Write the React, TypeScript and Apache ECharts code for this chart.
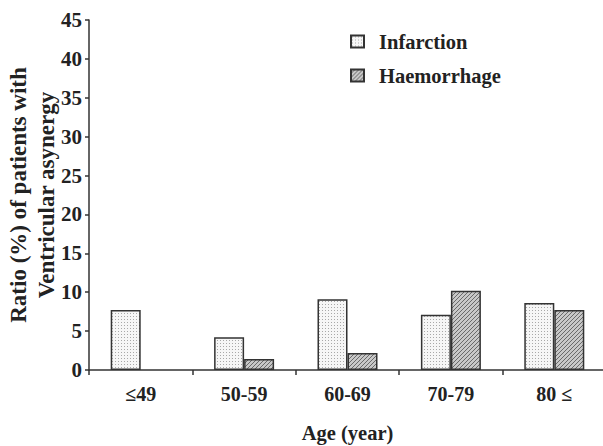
import React, { useEffect, useRef } from "react";
import * as echarts from "echarts";

const categories = ["≤49", "50-59", "60-69", "70-79", "80 ≤"];
const infarction = [7.7, 4.2, 9.1, 7.1, 8.6];
const haemorrhage = [null, 1.4, 2.2, 10.2, 7.7];
const seriesNames = ["Infarction", "Haemorrhage"];
const yTicks = { min: 0, max: 45, interval: 5 };

const FONT = "'Liberation Serif', 'Times New Roman', serif";

function dotPattern(): HTMLCanvasElement {
  const c = document.createElement("canvas");
  c.width = 3;
  c.height = 3;
  const ctx = c.getContext("2d")!;
  ctx.fillStyle = "#f6f6f6";
  ctx.fillRect(0, 0, 3, 3);
  ctx.fillStyle = "#a8a8a8";
  ctx.fillRect(1, 1, 1, 1);
  return c;
}

function hatchPattern(): HTMLCanvasElement {
  const c = document.createElement("canvas");
  c.width = 4;
  c.height = 4;
  const ctx = c.getContext("2d")!;
  ctx.fillStyle = "#c8c8c8";
  ctx.fillRect(0, 0, 4, 4);
  ctx.fillStyle = "#6a6a6a";
  for (let i = 0; i < 4; i++) {
    ctx.fillRect(3 - i, i, 1, 1);
  }
  return c;
}

export default function App() {
  const ref = useRef<HTMLDivElement>(null);
  useEffect(() => {
    if (!ref.current) return;
    const chart = echarts.init(ref.current, null, { renderer: "svg" });
    const dots = dotPattern();
    const hatch = hatchPattern();
    chart.setOption({
      animation: false,
      backgroundColor: "#ffffff",
      textStyle: { fontFamily: FONT },
      grid: { left: 89, top: 20, width: 517, bottom: 76, outerBoundsMode: "none" },
      legend: {
        orient: "vertical",
        left: 345,
        top: 26,
        itemWidth: 13,
        itemHeight: 12,
        itemGap: 13,
        icon: "rect",
        data: seriesNames,
        textStyle: {
          fontFamily: FONT,
          fontWeight: "bold",
          fontSize: 20.5,
          color: "#222",
          padding: [0, 0, 0, 10],
        },
      },
      xAxis: {
        type: "category",
        data: categories,
        boundaryGap: true,
        name: "Age (year)",
        nameLocation: "middle",
        nameGap: 52,
        nameMoveOverlap: false,
        nameTextStyle: { fontFamily: FONT, fontWeight: "bold", fontSize: 20.5, color: "#222" },
        axisLine: { show: true, lineStyle: { color: "#333", width: 1.5 } },
        axisTick: { show: true, alignWithLabel: false, length: 5, lineStyle: { color: "#333", width: 1.5 } },
        axisLabel: { fontFamily: FONT, fontWeight: "bold", fontSize: 20, color: "#222", margin: 14 },
        splitLine: { show: false },
      },
      yAxis: {
        type: "value",
        min: yTicks.min,
        max: yTicks.max,
        interval: yTicks.interval,
        name: "Ratio (%) of patients with\nVentricular asynergy",
        nameLocation: "middle",
        nameRotate: 90,
        nameGap: 29,
        nameMoveOverlap: false,
        nameTextStyle: { fontFamily: FONT, fontWeight: "bold", fontSize: 23, color: "#222", lineHeight: 28 },
        axisLine: { show: true, lineStyle: { color: "#333", width: 1.5 } },
        axisTick: { show: true, length: 4, lineStyle: { color: "#333", width: 1.5 } },
        axisLabel: { fontFamily: FONT, fontWeight: "bold", fontSize: 21, color: "#222", margin: 7 },
        splitLine: { show: false },
      },
      series: [
        {
          name: seriesNames[0],
          type: "bar",
          data: infarction,
          barWidth: 30,
          barGap: "0%",
          itemStyle: {
            color: { image: dots, repeat: "repeat" },
            borderColor: "#333",
            borderWidth: 1.5,
          },
        },
        {
          name: seriesNames[1],
          type: "bar",
          data: haemorrhage,
          barWidth: 30,
          barGap: "0%",
          itemStyle: {
            color: { image: hatch, repeat: "repeat" },
            borderColor: "#333",
            borderWidth: 1.5,
          },
        },
      ],
    });
    return () => chart.dispose();
  }, []);
  return <div ref={ref} style={{ width: 603, height: 446, position: "absolute", left: 0, top: 0 }} />;
}
